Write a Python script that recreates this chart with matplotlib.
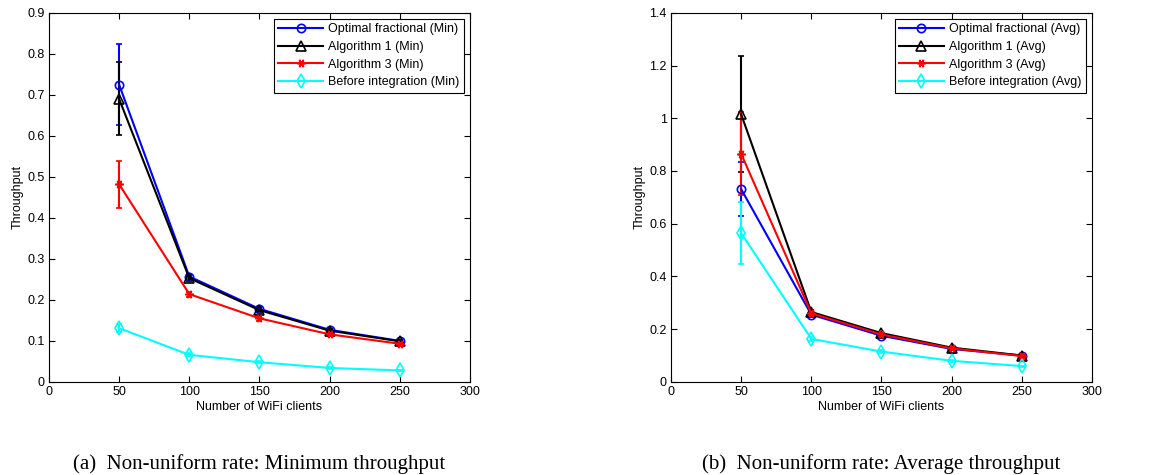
"""Throughput vs. number of WiFi clients, non-uniform rate (min / avg)
"""

import matplotlib
matplotlib.use('Agg')
import matplotlib.pyplot as plt

plt.rcParams['font.family'] = ['Liberation Sans', 'DejaVu Sans']
plt.rcParams['font.size'] = 9

#%% Data

clients = [50, 100, 150, 200, 250]

# minimum throughput
opt_min = [0.725, 0.257, 0.178, 0.127, 0.100]
opt_min_lo = [0.098, 0.006, 0.005, 0.003, 0.002]
opt_min_hi = [0.100, 0.006, 0.005, 0.003, 0.002]
alg1_min = [0.690, 0.253, 0.175, 0.125, 0.099]
alg1_min_lo = [0.089, 0.006, 0.005, 0.003, 0.002]
alg1_min_hi = [0.090, 0.006, 0.005, 0.003, 0.002]
alg3_min = [0.482, 0.214, 0.155, 0.116, 0.093]
alg3_min_lo = [0.057, 0.006, 0.006, 0.004, 0.003]
alg3_min_hi = [0.057, 0.006, 0.006, 0.004, 0.003]
before_min = [0.131, 0.066, 0.048, 0.034, 0.028]
before_min_lo = [0.010, 0.004, 0.003, 0.002, 0.002]
before_min_hi = [0.010, 0.004, 0.003, 0.002, 0.002]

# average throughput
opt_avg = [0.731, 0.255, 0.175, 0.125, 0.100]
opt_avg_lo = [0.101, 0.006, 0.005, 0.003, 0.002]
opt_avg_hi = [0.102, 0.006, 0.005, 0.003, 0.002]
alg1_avg = [1.015, 0.265, 0.185, 0.130, 0.100]
alg1_avg_lo = [0.217, 0.008, 0.006, 0.004, 0.003]
alg1_avg_hi = [0.221, 0.008, 0.006, 0.004, 0.003]
alg3_avg = [0.865, 0.260, 0.180, 0.127, 0.098]
alg3_avg_lo = [0.155, 0.007, 0.006, 0.004, 0.003]
alg3_avg_hi = [0.158, 0.007, 0.006, 0.004, 0.003]
before_avg = [0.564, 0.163, 0.115, 0.080, 0.060]
before_avg_lo = [0.116, 0.006, 0.005, 0.003, 0.002]
before_avg_hi = [0.118, 0.006, 0.005, 0.003, 0.002]

labels = ['Optimal fractional', 'Algorithm 1', 'Algorithm 3', 'Before integration']
colors = ['#0000ff', '#000000', '#ff0000', '#00ffff']
markers = ['o', '^', (6, 2, 90), 'd']
msizes = [6, 6.5, 6, 7]

min_series = [(opt_min, opt_min_lo, opt_min_hi), (alg1_min, alg1_min_lo, alg1_min_hi),
              (alg3_min, alg3_min_lo, alg3_min_hi), (before_min, before_min_lo, before_min_hi)]
avg_series = [(opt_avg, opt_avg_lo, opt_avg_hi), (alg1_avg, alg1_avg_lo, alg1_avg_hi),
              (alg3_avg, alg3_avg_lo, alg3_avg_hi), (before_avg, before_avg_lo, before_avg_hi)]

#%% Plot helper

def draw_panel(ax, series, tag, ymax, ystep):
    handles, names = [], []
    for (y, lo, hi), lab, c, m, ms in zip(series, labels, colors, markers, msizes):
        eb = ax.errorbar(clients, y, yerr=[lo, hi], color=c, lw=1.5, elinewidth=1.5,
                         capsize=2.2, capthick=1.5, marker=m, ms=ms, mfc='none', mec=c,
                         mew=1.2)
        # only the data line goes in the legend (no error bar glyph)
        handles.append(eb.lines[0])
        names.append('{} ({})'.format(lab, tag))
    ax.set_xlim(0, 300)
    ax.set_ylim(0, ymax)
    ax.set_xticks(range(0, 301, 50))
    n = int(round(ymax / ystep))
    yt = [round(i * ystep, 1) for i in range(n + 1)]
    ax.set_yticks(yt)
    ax.set_yticklabels(['{:g}'.format(v) for v in yt])
    ax.tick_params(direction='in', top=True, right=True, length=4, width=0.8, pad=3)
    for s in ax.spines.values():
        s.set_linewidth(0.8)
    ax.set_xlabel('Number of WiFi clients', labelpad=2)
    ax.set_ylabel('Throughput', labelpad=3)
    leg = ax.legend(handles, names, loc='upper right',
                    fancybox=False, edgecolor='black', framealpha=1,
                    handlelength=3.6, handletextpad=0.4, labelspacing=0.45,
                    borderpad=0.35, borderaxespad=0.5)
    leg.get_frame().set_linewidth(0.8)

#%% Figure

fig = plt.figure(figsize=(11.66, 4.75), dpi=100)
ax1 = fig.add_axes([0.042, 0.196, 0.361, 0.777])
ax2 = fig.add_axes([0.5755, 0.196, 0.361, 0.777])

draw_panel(ax1, min_series, 'Min', 0.9, 0.1)
draw_panel(ax2, avg_series, 'Avg', 1.4, 0.2)

cap_font = dict(family=['Liberation Serif', 'DejaVu Serif'], fontsize=15, ha='center', va='baseline')
fig.text(0.2225, 0.013, '(a)  Non-uniform rate: Minimum throughput', **cap_font)
fig.text(0.7560, 0.013, '(b)  Non-uniform rate: Average throughput', **cap_font)

fig.savefig('out.png', dpi=100)
